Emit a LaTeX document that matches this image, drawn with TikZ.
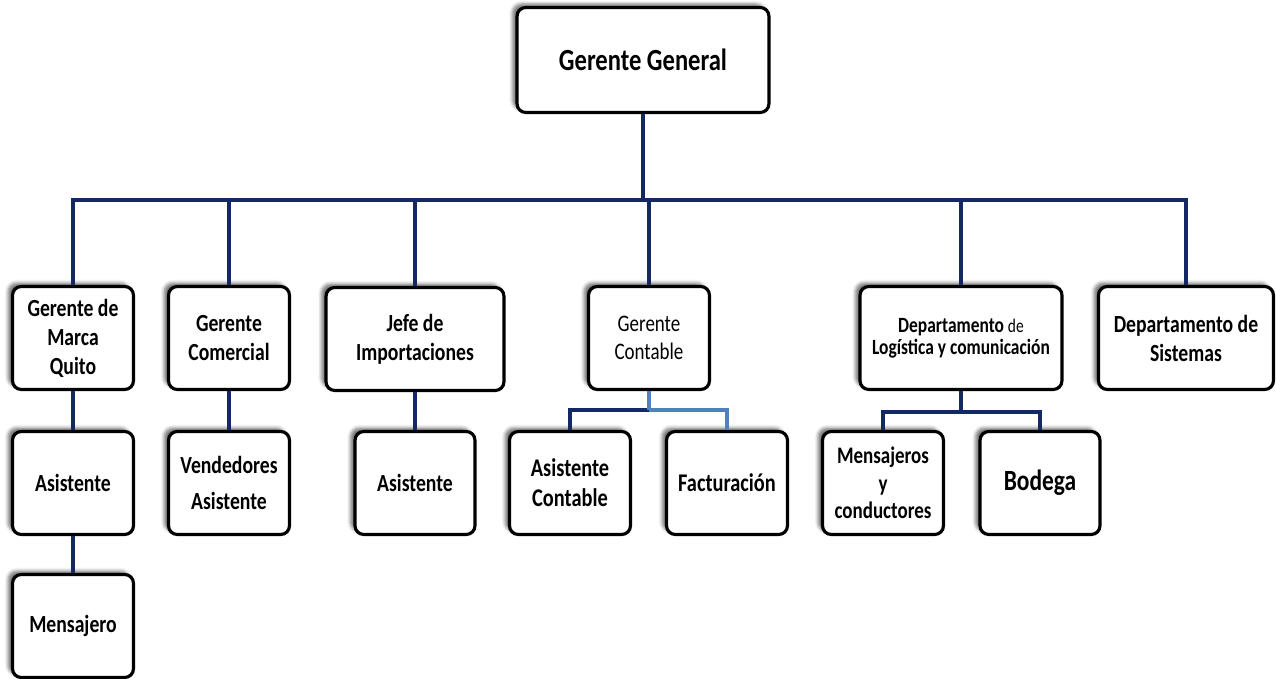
\documentclass[tikz,border=0pt]{standalone}
\usepackage{fontspec}
\setmainfont{Carlito}[FakeStretch=0.8]
\usepackage{tikz}
\usetikzlibrary{shadows.blur}
\definecolor{navy}{RGB}{20,40,100}
\definecolor{lightnavy}{RGB}{79,129,189}

\begin{document}
\begin{tikzpicture}[x=0.02cm, y=-0.02cm,
  box/.style={draw, line width=1.8pt, rounded corners=5pt, fill=white, align=center,
    font=\bfseries\fontsize{14}{16.5}\selectfont, minimum width=2.42cm, minimum height=2.06cm,
    inner sep=2pt, blur shadow={shadow xshift=-2.5pt, shadow yshift=2pt, shadow opacity=55}},
  link/.style={draw=navy, line width=2pt}]
\useasboundingbox (0,0) rectangle (1276,679);
%%%%% Boxes %%%%%
\node[box, minimum width=5.04cm, minimum height=2.1cm, font=\bfseries\fontsize{17.5}{20}\selectfont] (gerente) at (643,60) {Gerente General};
\node[box] (marca) at (73,338) {Gerente de\\Marca\\Quito};
\node[box] (comercial) at (229,338) {Gerente\\Comercial};
\node[box, minimum width=3.56cm] (jefe) at (415,339) {Jefe de\\Importaciones};
\node[box, font=\fontsize{13.5}{16}\selectfont] (contable) at (649,338) {Gerente\\Contable};
\node[box, minimum width=4.04cm, font=\bfseries\fontsize{12.4}{12.5}\selectfont] (logistica) at (961,338) {Departamento {\mdseries\fontsize{11}{12}\selectfont de}\\Logística y comunicación};
\node[box, minimum width=3.5cm] (sistemas) at (1186,338) {Departamento de\\Sistemas};
% second row
\node[box] (asistente) at (73,483) {Asistente};
\node[box, font=\bfseries\fontsize{14}{21}\selectfont] (vendedores) at (229,483) {Vendedores\\Asistente};
\node[box, minimum width=2.4cm] (asistjefe) at (415,483) {Asistente};
\node[box, font=\bfseries\fontsize{14.5}{17}\selectfont] (asistcont) at (570,483) {Asistente\\Contable};
\node[box, font=\bfseries\fontsize{14.5}{17}\selectfont] (facturacion) at (727,483) {Facturación};
\node[box, font=\bfseries\fontsize{13.5}{15.6}\selectfont] (mensajeros) at (883,483) {Mensajeros\\y\\conductores};
\node[box, minimum width=2.4cm, font=\bfseries\fontsize{16.7}{19}\selectfont] (bodega) at (1040,483) {Bodega};
\node[box] (mensajero) at (73,626) {Mensajero};
%%%%% Lines %%%%%
\coordinate (bus) at (643,200);
\coordinate (busconta) at (649,410);
\coordinate (buslog) at (961,412);
\draw[link] (gerente) -- (bus);
\foreach \n in {marca,comercial,jefe,contable,logistica,sistemas}
  \draw[link] (\n.north) |- (bus);
\draw[link] (marca) -- (asistente);
\draw[link] (asistente) -- (mensajero);
\draw[link] (comercial) -- (vendedores);
\draw[link] (jefe) -- (asistjefe);
\draw[link] (asistcont.north) |- (busconta);
\draw[link, draw=lightnavy] (contable) -- (busconta);
\draw[link, draw=lightnavy] (facturacion.north) |- (busconta);
\draw[link] (logistica) -- (buslog);
\foreach \n in {mensajeros,bodega}
  \draw[link] (\n.north) |- (buslog);
\end{tikzpicture}
\end{document}
